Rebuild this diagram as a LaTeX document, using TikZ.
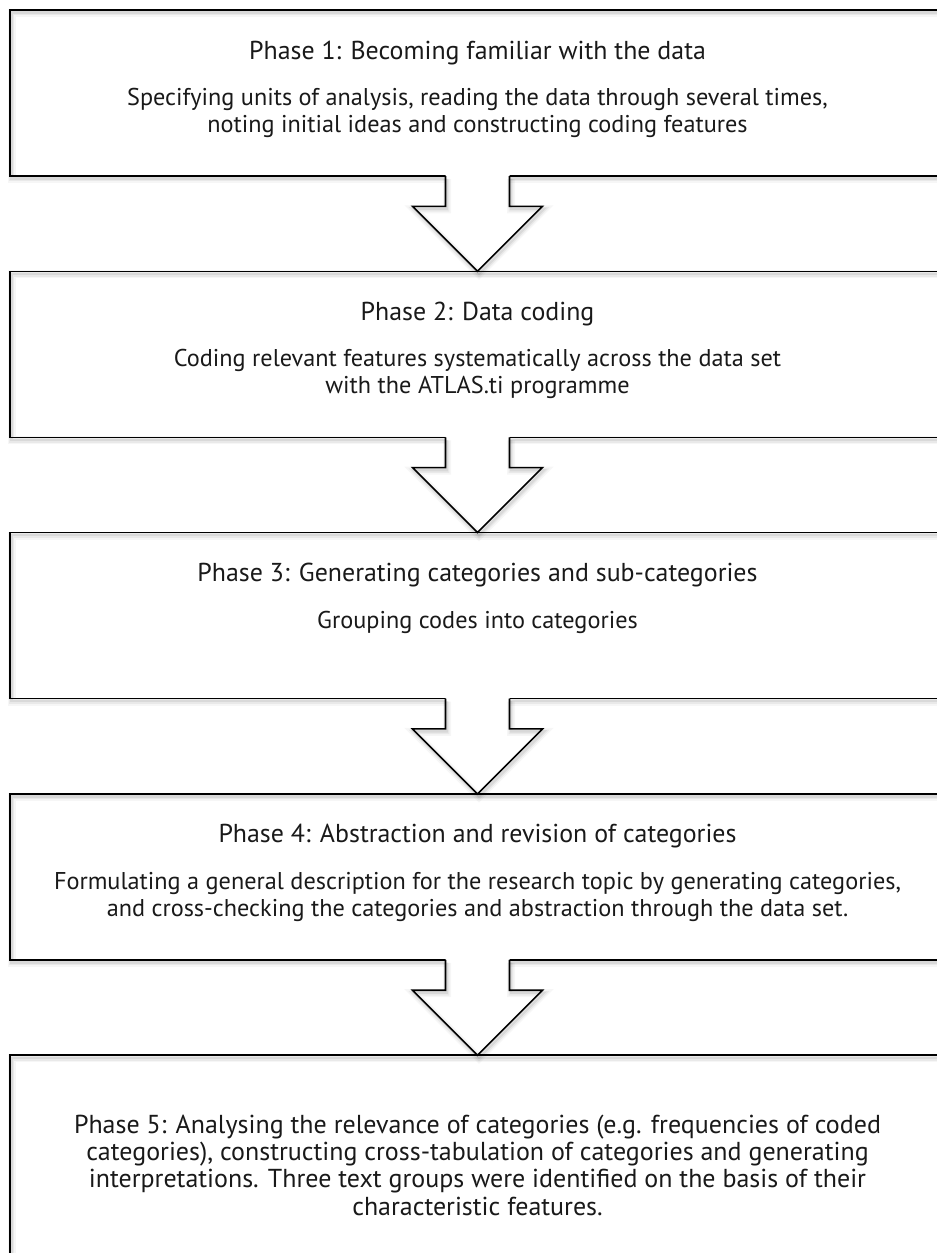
\documentclass[tikz,border=0pt]{standalone}
\usepackage{fontspec}
\setmainfont{PT Sans}
\usetikzlibrary{calc}

\tikzset{
  % soft shadow under every stroke
  lineshadow/.style={
    preaction={draw=black, opacity=0.035, line width=6pt, transform canvas={shift={(1.5,3)}}},
    preaction={draw=black, opacity=0.05, line width=3.5pt, transform canvas={shift={(1.5,3)}}},
    preaction={draw=black, opacity=0.07, line width=1.8pt, transform canvas={shift={(1.5,2.5)}}}
  },
  phasebox/.style={draw=black, line width=1.2pt, minimum width=701.25pt,
    minimum height=124.5pt, inner sep=0pt, outer sep=0pt, lineshadow},
  lastbox/.style={phasebox, minimum height=156pt},
  titletext/.style={anchor=base, inner sep=0pt, text=black!90,
    font=\fontsize{\titlesize pt}{20.25pt}\selectfont},
  desctext/.style={anchor=center, inner sep=0pt, align=center, text=black!90,
    font=\fontsize{\bodysize pt}{20.25pt}\selectfont},
  bigtext/.style={desctext, font=\fontsize{\bigsize pt}{20.5pt}\selectfont},
  flowarrow/.style={draw=black, line width=1.2pt, line join=miter, lineshadow},
}

% block arrow from the bottom of box #1 to the top of box #2
\newcommand\blockarrow[2]{%
  \fill[white] ($(#1.south)+(-32,-2)$) -- ($(#2.north)+(-32,-65)$)
     -- ($(#2.north)+(-65,-65)$) -- (#2.north) -- ($(#2.north)+(65,-65)$)
     -- ($(#2.north)+(32,-65)$) -- ($(#1.south)+(32,-2)$) -- cycle;
  \draw[flowarrow] ($(#1.south)+(-32,0)$) -- ($(#2.north)+(-32,-65)$)
     -- ($(#2.north)+(-65,-65)$) -- (#2.north) -- ($(#2.north)+(65,-65)$)
     -- ($(#2.north)+(32,-65)$) -- ($(#1.south)+(32,0)$);
}

% font sizes chosen so that the longest lines get their set widths
\newlength\measurelen
\newcommand\sizefor[3]{% macro, target width in pt, sample text
  \settowidth\measurelen{\rmfamily\fontsize{10pt}{12pt}\selectfont #3}%
  \pgfmathsetmacro#1{10*#2/\measurelen}%
}

\begin{document}
\sizefor\bodysize{635.25}{Formulating a general description for the research topic by generating categories,}%
\sizefor\titlesize{388.5}{Phase 4: Abstraction and revision of categories}%
\sizefor\bigsize{605.25}{Phase 5: Analysing the relevance of categories (e.g. frequencies of coded}%
\begin{tikzpicture}[x=0.75pt, y=-0.75pt]
\useasboundingbox (0,0) rectangle (937,1253);

% phase boxes
\node[phasebox] (p1) at (477.5,93) {};
\node[phasebox] (p2) at (477.5,354.3) {};
\node[phasebox] (p3) at (477.5,615.6) {};
\node[phasebox] (p4) at (477.5,876.9) {};
\node[lastbox]  (p5) at (477.5,1159.2) {};

% texts
\node[titletext] (p1t) at ($(p1.north)+(0,49)$) {Phase 1: Becoming familiar with the data};
\node[desctext]  (p1d) at ($(p1.north)+(0,103)$) {Specifying units of analysis, reading the data through several times,\\noting initial ideas and constructing coding features};

\node[titletext] (p2t) at ($(p2.north)+(0,49)$) {Phase 2: Data coding};
\node[desctext]  (p2d) at ($(p2.north)+(0,103)$) {Coding relevant features systematically across the data set\\with the ATLAS.ti programme};

\node[titletext] (p3t) at ($(p3.north)+(0,49)$) {Phase 3: Generating categories and sub-categories};
\node[desctext]  (p3d) at ($(p3.north)+(0,90)$) {Grouping codes into categories};

\node[titletext] (p4t) at ($(p4.north)+(0,49)$) {Phase 4: Abstraction and revision of categories};
\node[desctext]  (p4d) at ($(p4.north)+(0,103)$) {Formulating a general description for the research topic by generating categories,\\and cross-checking the categories and abstraction through the data set.};

\node[bigtext] (p5d) at ($(p5.north)+(0,110)$) {Phase 5: Analysing the relevance of categories (e.g. frequencies of coded\\categories), constructing cross-tabulation of categories and generating\\interpretations. Three text groups were identified on the basis of their\\characteristic features.};

% arrows between phases
\blockarrow{p1}{p2}
\blockarrow{p2}{p3}
\blockarrow{p3}{p4}
\blockarrow{p4}{p5}
\end{tikzpicture}
\end{document}
